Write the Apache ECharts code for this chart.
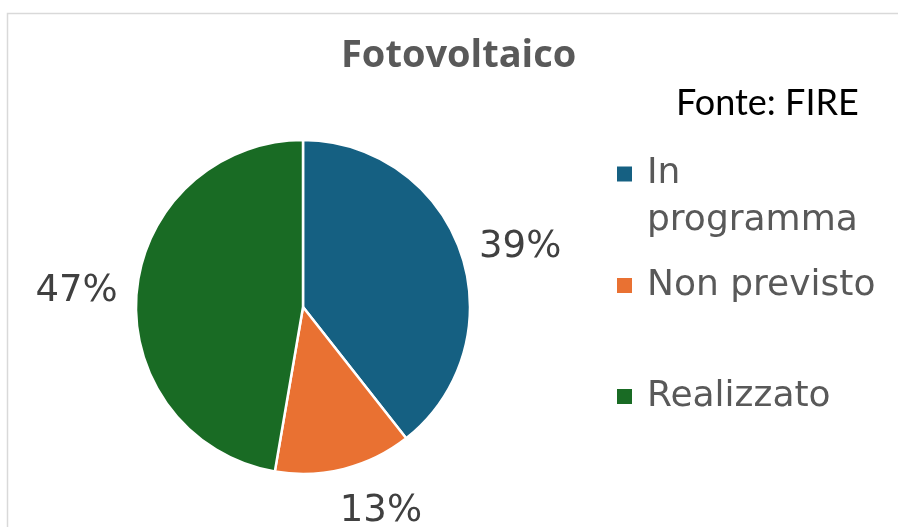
<!DOCTYPE html>
<html>
<head>
<meta charset="utf-8">
<script src="https://cdn.jsdelivr.net/npm/echarts@6/dist/echarts.min.js"></script>
<style>
  html, body { margin: 0; padding: 0; background: #fff; }
  #chart { width: 898px; height: 527px; }
</style>
</head>
<body>
<div id="chart"></div>
<script>
'use strict';
// ---- data ---------------------------------------------------------------- //
const categories = ['In programma', 'Non previsto', 'Realizzato'];
const shares = [39.4, 13.3, 47.3];
const colors = ['#156082', '#E97132', '#196B24'];
const legendTops = [156, 262, 373];

const chart = echarts.init(document.getElementById('chart'));
const legendFont = { fontFamily: 'DejaVu Sans', fontSize: 36, color: '#595959', lineHeight: 47 };

// one legend per entry: Excel spaces them unevenly ("In programma" wraps to 2 lines)
const legends = categories.map((name, i) => ({
  orient: 'vertical', left: 615, top: legendTops[i], padding: 0,
  itemWidth: 17, itemHeight: 17,
  icon: 'rect',
  data: [name],
  formatter: (n) => (i === 0 ? '{t|In}\n{t|programma}' : n),
  textStyle: i === 0
    ? { padding: [47, 0, 0, 9], rich: { t: legendFont } }
    : Object.assign({ padding: [0, 0, 0, 9] }, legendFont),
}));

chart.setOption({
  animation: false,
  title: [
    { text: 'Fotovoltaico', left: 341, top: 37, padding: 0,
      textStyle: { fontFamily: 'Open Sans', fontWeight: 'bold', fontSize: 38, color: '#595959' } },
    { text: 'Fonte: FIRE', left: 676, top: 85, padding: 0,
      textStyle: { fontFamily: 'Lato', fontWeight: 'normal', fontSize: 36, color: '#000' } },
  ],
  graphic: [{
    type: 'rect', left: 5, top: 11, silent: true,
    shape: { width: 1000, height: 700 },
    style: { fill: 'none', stroke: '#D9D9D9', lineWidth: 1.5 },
  }],
  legend: legends,
  series: [{
    type: 'pie',
    center: [303, 307],
    radius: 167,
    startAngle: 90,
    clockwise: true,
    avoidLabelOverlap: false,
    itemStyle: { borderColor: '#fff', borderWidth: 2.5 },
    label: {
      show: true, position: 'outside',
      formatter: (p) => Math.round(p.percent) + '%',
      fontFamily: 'DejaVu Sans', fontSize: 37, color: '#404040',
    },
    labelLine: { show: false, length: 14, length2: 0 },
    labelLayout: (p) => (p.dataIndex === 1 ? { dx: -20 } : {}),
    data: categories.map((name, i) => ({
      name, value: shares[i], itemStyle: { color: colors[i] },
      labelLine: i === 1 ? { length: 44 } : undefined,
    })),
  }],
});
</script>
</body>
</html>
